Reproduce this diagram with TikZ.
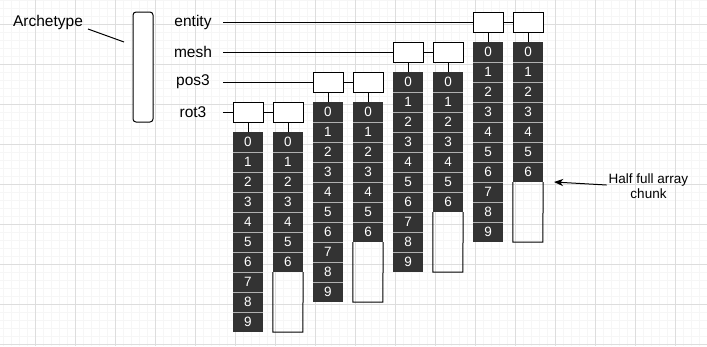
\documentclass[tikz,border=0pt]{standalone}
\usepackage{fontspec}
\setmainfont{Liberation Sans}
\usetikzlibrary{arrows.meta}
\definecolor{cellfill}{HTML}{333333}
\definecolor{cellsep}{HTML}{B0B0B0}
\definecolor{gridminor}{HTML}{F6F6F6}
\definecolor{gridmajor}{HTML}{DDDDDD}
\begin{document}
\begin{tikzpicture}[x=1pt,y=-1pt,
  wire/.style={draw=black, line width=1pt},
  hdr/.style={draw=black, line width=1pt, fill=white, minimum width=30pt, minimum height=20pt, inner sep=0pt},
  cell/.style={fill=cellfill, minimum width=30pt, minimum height=20pt, inner sep=0pt, text=white, font=\fontsize{13.5}{13.5}\selectfont},
  sepline/.style={draw=cellsep, line width=1pt},
  lbl/.style={minimum width=60pt, inner sep=0pt, font=\fontsize{15.5}{18}\selectfont},
  note/.style={inner sep=2pt, align=center, font=\fontsize{13.5}{15}\selectfont},
  pointer/.style={draw=black, line width=1pt, -{Stealth[length=9pt,width=7pt,inset=2.5pt]}}]
% canvas and background grid
\useasboundingbox (0,0) rectangle (707,346);
\fill[white] (0,0) rectangle (707,346);
\foreach \x in {3.5,11.5,...,707} \draw[gridminor, line width=0.6pt] (\x,0) -- (\x,346);
\foreach \y in {0.5,8.5,...,346} \draw[gridminor, line width=0.6pt] (0,\y) -- (707,\y);
\foreach \x in {35.5,75.5,...,707} \draw[gridmajor, line width=0.8pt] (\x,0) -- (\x,346);
\foreach \y in {24.5,64.5,...,346} \draw[gridmajor, line width=0.8pt] (0,\y) -- (707,\y);

% archetype
\node[draw=black, line width=1pt, fill=white, rounded corners=3pt, minimum width=20pt, minimum height=110pt, inner sep=0pt] (arch) at (143,67) {};
\node[inner sep=0pt, font=\fontsize{15.5}{18}\selectfont] (archlbl) at (48,22) {Archetype};
\coordinate (archA) at (88,29);
\coordinate (archB) at (124,42);
\draw[wire] (archA) -- (archB);

% one component per row: two chunks, each an array of slots
\foreach \k/\name in {0/rot3,1/pos3,2/mesh,3/entity} {
  \pgfmathsetmacro\xa{248+80*\k}
  \pgfmathsetmacro\xb{288+80*\k}
  \pgfmathsetmacro\yt{112-30*\k}
  \node[lbl] (l\k) at (193,\yt) {\name};
  \node[hdr] (a\k) at (\xa,\yt) {};
  \node[hdr] (b\k) at (\xb,\yt) {};
  \draw[wire] (l\k.east) -- (a\k.west);
  \draw[wire] (a\k.east) -- (b\k.west);
  % full chunk
  \foreach \i in {0,...,9}
    \node[cell] (ca\k-\i) at (\xa,\yt+30+20*\i) {\i};
  \foreach \i in {1,...,9}
    \draw[sepline] (\xa-15,\yt+20+20*\i) -- (\xa+15,\yt+20+20*\i);
  % half full chunk
  \foreach \i in {0,...,6}
    \node[cell] (cb\k-\i) at (\xb,\yt+30+20*\i) {\i};
  \foreach \i in {1,...,6}
    \draw[sepline] (\xb-15,\yt+20+20*\i) -- (\xb+15,\yt+20+20*\i);
  \draw[wire] (cb\k-6.south west) -- ++(0,60) -- ++(30,0) -- (cb\k-6.south east);
  % stems
  \draw[wire] (a\k.south) -- (ca\k-0.north);
  \draw[wire] (b\k.south) -- (cb\k-0.north);
}

% annotation
\node[note] (half) at (648.5,186.5) {Half full array\\chunk};
\coordinate (halftip) at (554,182);
\draw[pointer] ([yshift=1.5pt]half.west) -- (halftip);
\end{tikzpicture}
\end{document}
